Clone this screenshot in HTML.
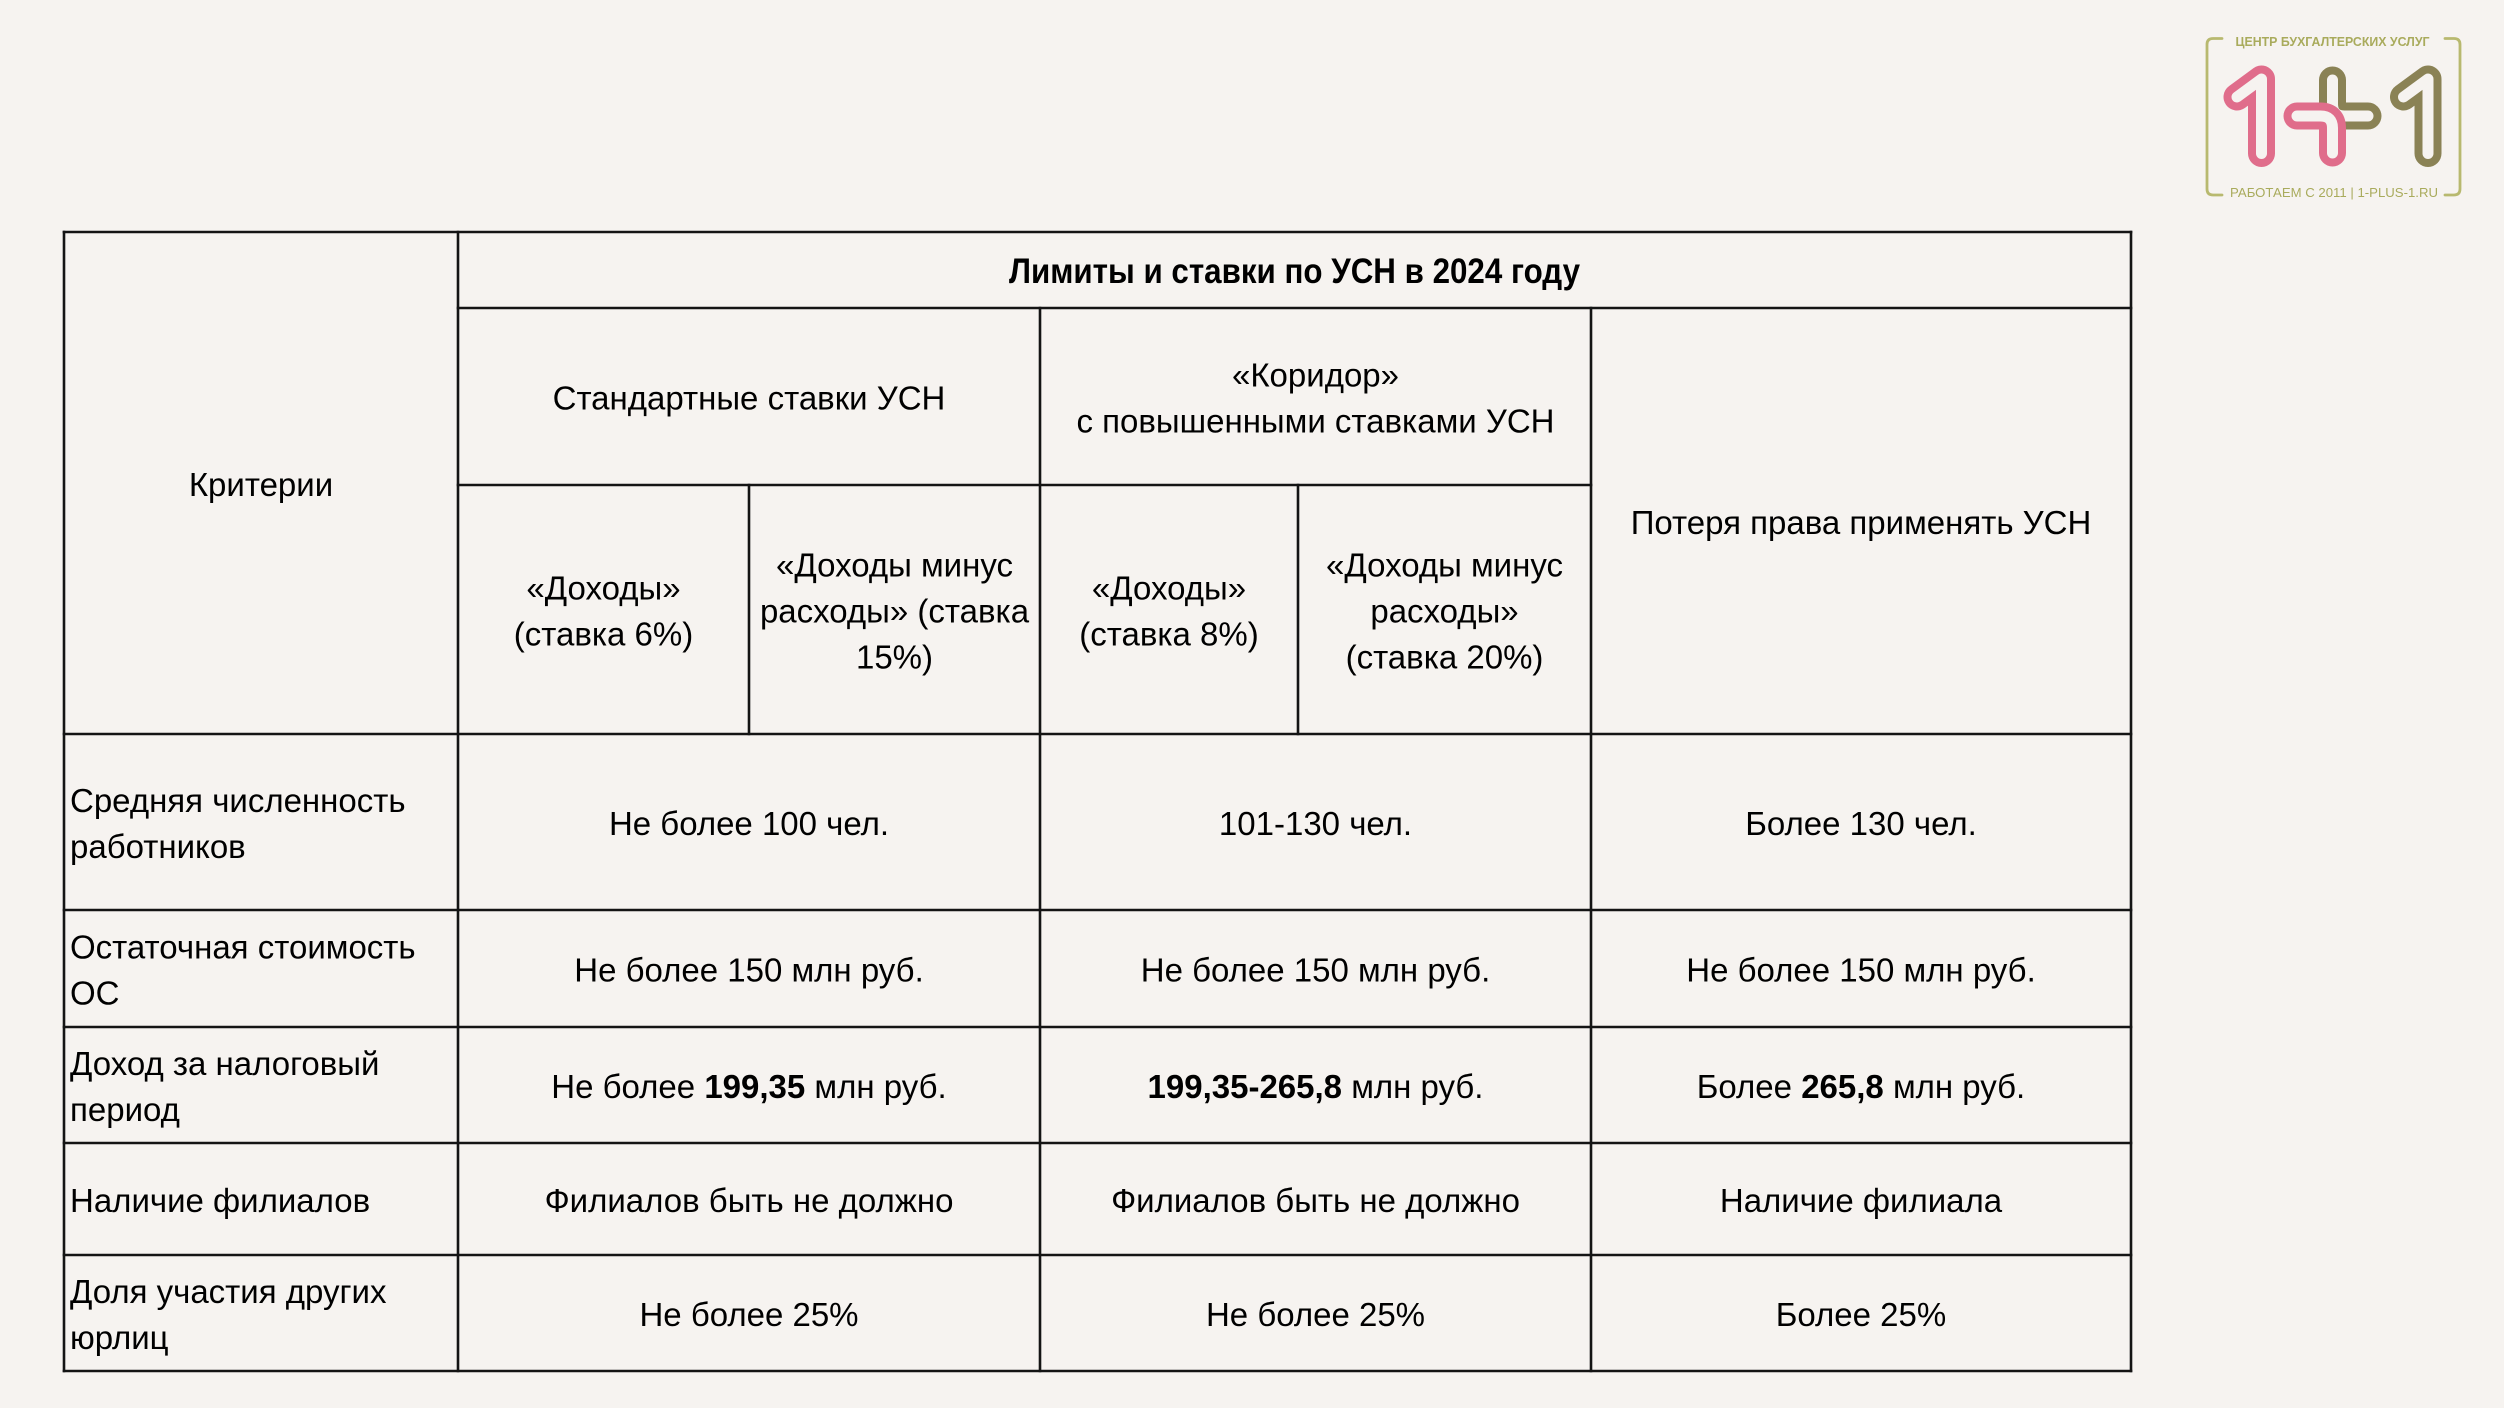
<!DOCTYPE html>
<html>
<head>
<meta charset="utf-8">
<style>
  html, body { margin:0; padding:0; background:#f6f3f0; }
  body { width:2504px; height:1408px; overflow:hidden; }
  svg { display:block; }
  text { font-family:"Liberation Sans", "DejaVu Sans", sans-serif; fill:#000; }
  .t { font-size:33px; }
  .c { text-anchor:middle; }
  .b { font-weight:bold; }
  .ln { stroke:#141414; stroke-width:2.6; stroke-linecap:square; }
</style>
</head>
<body>
<svg width="2504" height="1408" viewBox="0 0 2504 1408" xmlns="http://www.w3.org/2000/svg">
  <rect x="0" y="0" width="2504" height="1408" fill="#f6f3f0"/>

  <!-- Logo -->
  <g fill="none" stroke="#b8b96f" stroke-width="2.8" stroke-linecap="round" stroke-linejoin="round">
    <path d="M2222,38.5 H2213 Q2207,38.5 2207,44.5 V189 Q2207,195 2213,195 H2222"/>
    <path d="M2445,38.5 H2454 Q2460,38.5 2460,44.5 V189 Q2460,195 2454,195 H2445"/>
  </g>
  <text x="2332.5" y="46" text-anchor="middle" font-size="13" font-weight="bold" fill="#a9ab5c" style="fill:#a9ab5c" textLength="194" lengthAdjust="spacingAndGlyphs">ЦЕНТР БУХГАЛТЕРСКИХ УСЛУГ</text>
  <text x="2334" y="197" text-anchor="middle" font-size="13" fill="#a9ab5c" style="fill:#a9ab5c" textLength="208" lengthAdjust="spacingAndGlyphs">РАБОТАЕМ С 2011  |  1-PLUS-1.RU</text>

  <g fill="none" stroke-linecap="round" stroke-linejoin="round">
    <!-- pink 1 -->
    <path d="M2237,97 L2261.5,79 L2261.5,153.5" stroke="#e06d8b" stroke-width="27"/>
    <path d="M2237,97 L2261.5,79 L2261.5,153.5" stroke="#f6f3f0" stroke-width="11"/>
    <!-- olive L of plus -->
    <path d="M2332.5,80 V104 Q2332.5,116 2344.5,116 H2368" stroke="#8a8255" stroke-width="27"/>
    <path d="M2332.5,80 V104 Q2332.5,116 2344.5,116 H2368" stroke="#f6f3f0" stroke-width="11"/>
    <!-- pink L of plus -->
    <path d="M2297,116 H2320.5 Q2332.5,116 2332.5,128 V153" stroke="#e06d8b" stroke-width="27"/>
    <path d="M2297,116 H2320.5 Q2332.5,116 2332.5,128 V153" stroke="#f6f3f0" stroke-width="11"/>
    <!-- olive 1 -->
    <path d="M2403.5,97 L2428,79 L2428,153.5" stroke="#8a8255" stroke-width="27"/>
    <path d="M2403.5,97 L2428,79 L2428,153.5" stroke="#f6f3f0" stroke-width="11"/>
  </g>

  <!-- Table lines -->
  <g class="ln">
    <line x1="64" y1="232" x2="2131" y2="232"/>
    <line x1="458" y1="308" x2="2131" y2="308"/>
    <line x1="458" y1="485" x2="1591" y2="485"/>
    <line x1="64" y1="734" x2="2131" y2="734"/>
    <line x1="64" y1="910" x2="2131" y2="910"/>
    <line x1="64" y1="1027" x2="2131" y2="1027"/>
    <line x1="64" y1="1143" x2="2131" y2="1143"/>
    <line x1="64" y1="1255" x2="2131" y2="1255"/>
    <line x1="64" y1="1371" x2="2131" y2="1371"/>

    <line x1="64" y1="232" x2="64" y2="1371"/>
    <line x1="2131" y1="232" x2="2131" y2="1371"/>
    <line x1="458" y1="232" x2="458" y2="1371"/>
    <line x1="1040" y1="308" x2="1040" y2="1371"/>
    <line x1="1591" y1="308" x2="1591" y2="1371"/>
    <line x1="749" y1="485" x2="749" y2="734"/>
    <line x1="1298" y1="485" x2="1298" y2="734"/>
  </g>

  <!-- Header -->
  <text class="b c" x="1294.5" y="283" font-size="35" textLength="571" lengthAdjust="spacingAndGlyphs">Лимиты и ставки по УСН в 2024 году</text>
  <text class="t c" x="261" y="496">Критерии</text>
  <text class="t c" x="749" y="409.5">Стандартные ставки УСН</text>
  <text class="t c" x="1315.5" y="386.5">«Коридор»</text>
  <text class="t c" x="1315.5" y="432.5">с повышенными ставками УСН</text>
  <text class="t c" x="1861" y="534">Потеря права применять УСН</text>

  <text class="t c" x="603.5" y="599.5">«Доходы»</text>
  <text class="t c" x="603.5" y="645.5">(ставка 6%)</text>

  <text class="t c" x="894.5" y="576.5">«Доходы минус</text>
  <text class="t c" x="894.5" y="622.5">расходы» (ставка</text>
  <text class="t c" x="894.5" y="668.5">15%)</text>

  <text class="t c" x="1169" y="599.5">«Доходы»</text>
  <text class="t c" x="1169" y="645.5">(ставка 8%)</text>

  <text class="t c" x="1444.5" y="576.5">«Доходы минус</text>
  <text class="t c" x="1444.5" y="622.5">расходы»</text>
  <text class="t c" x="1444.5" y="668.5">(ставка 20%)</text>

  <!-- Row 1 -->
  <text class="t" x="70" y="812">Средняя численность</text>
  <text class="t" x="70" y="858">работников</text>
  <text class="t c" x="749" y="835">Не более 100 чел.</text>
  <text class="t c" x="1315.5" y="835">101-130 чел.</text>
  <text class="t c" x="1861" y="835">Более 130 чел.</text>

  <!-- Row 2 -->
  <text class="t" x="70" y="958.5">Остаточная стоимость</text>
  <text class="t" x="70" y="1004.5">ОС</text>
  <text class="t c" x="749" y="981.5">Не более 150 млн руб.</text>
  <text class="t c" x="1315.5" y="981.5">Не более 150 млн руб.</text>
  <text class="t c" x="1861" y="981.5">Не более 150 млн руб.</text>

  <!-- Row 3 -->
  <text class="t" x="70" y="1075">Доход за налоговый</text>
  <text class="t" x="70" y="1121">период</text>
  <text class="t c" x="749" y="1098">Не более <tspan font-weight="bold">199,35</tspan> млн руб.</text>
  <text class="t c" x="1315.5" y="1098"><tspan font-weight="bold">199,35-265,8</tspan> млн руб.</text>
  <text class="t c" x="1861" y="1098">Более <tspan font-weight="bold">265,8</tspan> млн руб.</text>

  <!-- Row 4 -->
  <text class="t" x="70" y="1212">Наличие филиалов</text>
  <text class="t c" x="749" y="1212">Филиалов быть не должно</text>
  <text class="t c" x="1315.5" y="1212">Филиалов быть не должно</text>
  <text class="t c" x="1861" y="1212">Наличие филиала</text>

  <!-- Row 5 -->
  <text class="t" x="70" y="1303">Доля участия других</text>
  <text class="t" x="70" y="1349">юрлиц</text>
  <text class="t c" x="749" y="1326">Не более 25%</text>
  <text class="t c" x="1315.5" y="1326">Не более 25%</text>
  <text class="t c" x="1861" y="1326">Более 25%</text>
</svg>
</body>
</html>
